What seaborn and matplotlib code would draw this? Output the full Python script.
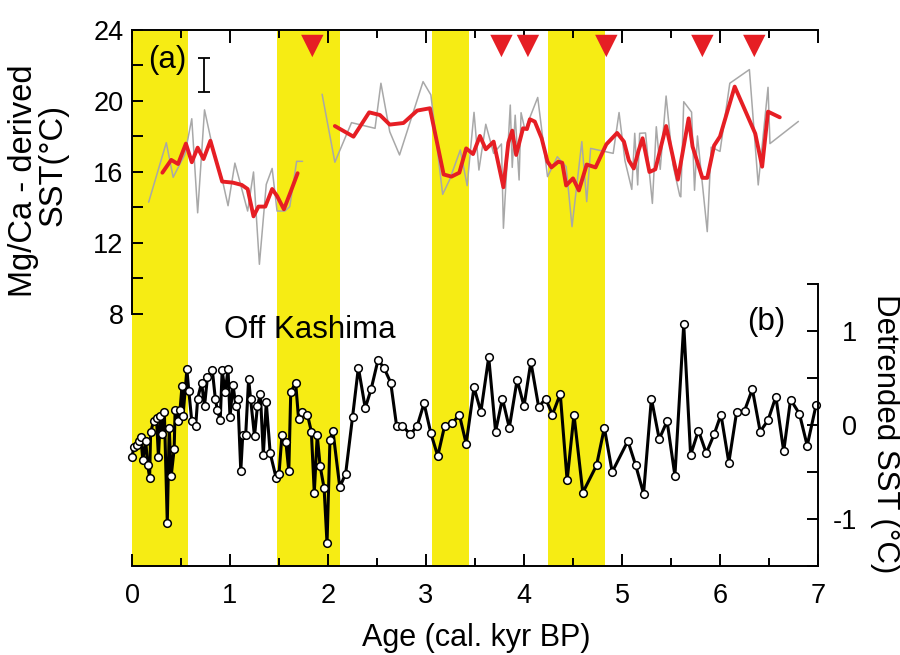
import matplotlib
matplotlib.use('Agg')
import matplotlib.pyplot as plt
import seaborn as sns
from matplotlib.ticker import FixedLocator

# Mg/Ca SST, raw (gray) and smoothed (red), two segments each
raw_age_1 = [0.17, 0.35, 0.42, 0.54, 0.61, 0.67, 0.74, 0.83, 0.92, 0.98, 1.05, 1.18,
             1.24, 1.30, 1.37, 1.43, 1.48, 1.56, 1.61, 1.68, 1.74]
raw_sst_1 = [14.3, 17.65, 15.7, 17.0, 19.0, 13.7, 19.5, 17.2, 15.6, 14.1, 16.5, 13.8,
             16.0, 10.8, 15.3, 16.2, 13.8, 13.8, 14.05, 16.6, 16.6]

raw_age_2 = [1.94, 2.07, 2.24, 2.48, 2.54, 2.63, 2.73, 2.97, 3.05, 3.17, 3.24, 3.35,
             3.42, 3.49, 3.54, 3.61, 3.69, 3.77, 3.79, 3.86, 3.88, 3.91, 3.95, 3.97,
             4.01, 4.14, 4.24, 4.34, 4.43, 4.49, 4.59, 4.64, 4.68, 4.91, 4.97, 5.03,
             5.10, 5.13, 5.16, 5.18, 5.24, 5.31, 5.35, 5.39, 5.45, 5.52, 5.59, 5.60,
             5.63, 5.71, 5.74, 5.77, 5.87, 5.91, 6.00, 6.10, 6.30, 6.39, 6.49, 6.51, 6.80]
raw_sst_2 = [20.38, 16.55, 18.78, 18.46, 21.0, 18.27, 16.96, 21.09, 20.34, 14.74, 15.55, 17.24,
             15.23, 19.36, 16.11, 18.69, 17.05, 17.58, 12.83, 19.77, 16.26, 19.2, 15.55, 19.34,
             18.37, 20.2, 15.74, 16.86, 16.3, 12.92, 17.71, 14.33, 17.33, 17.05, 19.35, 16.64,
             15.02, 18.18, 15.27, 18.18, 18.2, 14.23, 18.55, 16.15, 20.28, 16.4, 14.65, 14.6,
             19.96, 19.37, 14.97, 18.03, 12.64, 17.4, 17.16, 21.0, 21.77, 15.27, 20.77, 17.6, 18.85]

smooth_age_1 = [0.31, 0.40, 0.47, 0.55, 0.61, 0.67, 0.73, 0.80, 0.92, 1.03, 1.12, 1.18,
                1.24, 1.29, 1.36, 1.43, 1.48, 1.55, 1.62, 1.69]
smooth_sst_1 = [15.96, 16.68, 16.45, 17.6, 16.55, 17.37, 16.73, 17.76, 15.46, 15.4, 15.27, 15.04,
                13.5, 14.05, 14.05, 15.04, 14.65, 13.9, 14.9, 15.93]

smooth_age_2 = [2.07, 2.26, 2.42, 2.53, 2.63, 2.77, 2.91, 3.04, 3.18, 3.26, 3.34, 3.41,
                3.48, 3.55, 3.61, 3.69, 3.79, 3.84, 3.88, 3.92, 3.99, 4.03, 4.06, 4.11,
                4.18, 4.24, 4.28, 4.35, 4.39, 4.43, 4.50, 4.56, 4.64, 4.73, 4.84, 4.95,
                5.02, 5.07, 5.12, 5.17, 5.21, 5.28, 5.34, 5.45, 5.57, 5.68, 5.72, 5.82,
                5.87, 5.94, 6.00, 6.15, 6.36, 6.43, 6.49, 6.61]
smooth_sst_2 = [18.59, 17.99, 19.36, 19.21, 18.67, 18.76, 19.46, 19.59, 15.86, 15.74, 15.96, 17.33,
                17.01, 18.03, 17.28, 17.71, 15.14, 17.65, 18.33, 16.96, 18.46, 18.42, 18.97, 18.84,
                17.9, 16.58, 16.26, 16.58, 16.52, 15.24, 15.64, 14.96, 16.42, 16.26, 17.56, 18.2,
                17.71, 16.65, 16.2, 17.22, 17.9, 16.0, 16.15, 18.59, 15.57, 19.02, 17.43, 15.67,
                15.67, 17.49, 18.0, 20.81, 18.16, 16.3, 19.4, 19.08]

# detrended SST (black, open circles)
det_age = [0.00, 0.02, 0.05, 0.07, 0.09, 0.11, 0.14, 0.16, 0.18, 0.19, 0.22, 0.25, 0.27, 0.29,
           0.31, 0.33, 0.36, 0.38, 0.40, 0.43, 0.44, 0.47, 0.49, 0.51, 0.52, 0.56, 0.58, 0.61,
           0.65, 0.67, 0.71, 0.74, 0.77, 0.82, 0.85, 0.87, 0.90, 0.92, 0.95, 0.98, 1.00, 1.03,
           1.06, 1.08, 1.11, 1.13, 1.16, 1.19, 1.21, 1.25, 1.28, 1.31, 1.34, 1.37, 1.41, 1.47,
           1.50, 1.53, 1.57, 1.60, 1.62, 1.67, 1.70, 1.73, 1.79, 1.83, 1.86, 1.89, 1.92, 1.96,
           1.99, 2.02, 2.05, 2.12, 2.18, 2.25, 2.31, 2.38, 2.44, 2.51, 2.57, 2.64, 2.70, 2.76,
           2.84, 2.91, 2.98, 3.05, 3.12, 3.19, 3.27, 3.34, 3.41, 3.49, 3.56, 3.64, 3.71, 3.78,
           3.85, 3.93, 4.00, 4.07, 4.15, 4.22, 4.29, 4.37, 4.44, 4.51, 4.60, 4.74, 4.82, 4.90,
           5.06, 5.14, 5.22, 5.30, 5.38, 5.46, 5.54, 5.63, 5.70, 5.78, 5.86, 5.94, 6.01, 6.09,
           6.17, 6.25, 6.33, 6.41, 6.49, 6.57, 6.65, 6.72, 6.81, 6.89, 6.98]
det_sst = [-0.34, -0.23, -0.21, -0.17, -0.13, -0.37, -0.17, -0.43, -0.56, -0.08, 0.04, 0.07, -0.34, 0.10,
           -0.10, 0.14, -1.04, -0.03, -0.54, -0.26, 0.16, 0.04, 0.16, 0.41, 0.09, 0.59, 0.36, 0.04,
           -0.01, 0.28, 0.45, 0.20, 0.51, 0.58, 0.28, 0.16, 0.05, 0.58, 0.35, 0.59, 0.08, 0.43,
           0.20, 0.28, -0.49, -0.11, -0.11, 0.49, 0.28, -0.12, 0.20, 0.33, -0.32, 0.24, -0.30, -0.56,
           -0.52, -0.11, -0.18, -0.49, 0.35, 0.45, 0.06, 0.14, 0.11, -0.07, -0.72, -0.11, -0.44, -0.67,
           -1.26, -0.16, -0.06, -0.66, -0.52, 0.08, 0.61, 0.18, 0.38, 0.69, 0.61, 0.45, -0.01, -0.01,
           -0.10, -0.01, 0.23, -0.09, -0.33, -0.01, 0.02, 0.11, -0.20, 0.40, 0.14, 0.72, -0.07, 0.28,
           -0.03, 0.48, 0.20, 0.67, 0.19, 0.28, 0.11, 0.33, -0.59, 0.11, -0.72, -0.43, -0.03, -0.50,
           -0.17, -0.43, -0.73, 0.28, -0.15, 0.04, -0.54, 1.07, -0.32, -0.06, -0.30, -0.10, 0.11, -0.40,
           0.14, 0.15, 0.38, -0.07, 0.05, 0.30, -0.28, 0.27, 0.12, -0.22, 0.21]

# cold events (yellow bands) and red triangles
band_start = [0.0, 1.48, 3.06, 4.24]
band_end = [0.57, 2.12, 3.44, 4.83]
event_age = [1.84, 3.77, 4.04, 4.84, 5.82, 6.35]
event_level = [23.1] * len(event_age)

YELLOW = '#f6ec14'
RED = '#e61e24'

sns.set_style('ticks')
plt.rcParams['font.family'] = ['Liberation Sans', 'DejaVu Sans']
plt.rcParams['axes.unicode_minus'] = False
for key in ['text.color', 'axes.labelcolor', 'xtick.color', 'ytick.color']:
    plt.rcParams[key] = 'black'

fig = plt.figure(figsize=(9, 6.55), dpi=100)
ax = fig.add_axes([132 / 900, 1 - 566 / 655, 686 / 900, 536 / 655])

for s, e in zip(band_start, band_end):
    ax.axvspan(s, e, color=YELLOW, lw=0, zorder=0)

# panel (a)
sns.lineplot(x=raw_age_1, y=raw_sst_1, ax=ax, color='#a8a8a8', lw=1.1, sort=False, estimator=None, zorder=2)
sns.lineplot(x=raw_age_2, y=raw_sst_2, ax=ax, color='#a8a8a8', lw=1.1, sort=False, estimator=None, zorder=2)
sns.lineplot(x=smooth_age_1, y=smooth_sst_1, ax=ax, color=RED, lw=2.8, sort=False, estimator=None, zorder=3)
sns.lineplot(x=smooth_age_2, y=smooth_sst_2, ax=ax, color=RED, lw=2.8, sort=False, estimator=None, zorder=3)
sns.scatterplot(x=event_age, y=event_level, ax=ax, marker='v', s=260, color=RED, edgecolor='none', zorder=4)
ax.errorbar([0.73], [21.45], yerr=[0.95], color='black', lw=1.3, capsize=4, capthick=1.3)

ax.set_xlim(0, 7)
ax.set_ylim(-6.2, 24)
ax.set_xlabel('')
ax.set_ylabel('')
ax.spines['right'].set_visible(False)
ax.spines['left'].set_bounds(8, 24)
for sp in ['left', 'top', 'bottom']:
    ax.spines[sp].set_linewidth(1.4)
    ax.spines[sp].set_color('black')

ax.xaxis.set_major_locator(FixedLocator(range(8)))
ax.xaxis.set_minor_locator(FixedLocator([0.5, 1.5, 2.5, 3.5, 4.5, 5.5, 6.5]))
ax.yaxis.set_major_locator(FixedLocator([8, 12, 16, 20, 24]))
ax.yaxis.set_minor_locator(FixedLocator([10, 14, 18, 22]))
ax.tick_params(axis='x', which='both', direction='in', top=True, bottom=True, width=1.4, pad=12, labelsize=19.5)
ax.tick_params(axis='x', which='major', length=9)
ax.tick_params(axis='x', which='minor', length=6)
ax.tick_params(axis='y', which='both', direction='in', left=True, right=False, length=8, width=1.4, pad=6,
               labelsize=19.5)

ax.text(0.36, 22.3, '(a)', ha='center', va='center', fontsize=22.5)

# panel (b)
ax2 = ax.twinx()
sns.lineplot(x=det_age, y=det_sst, ax=ax2, color='black', lw=2.2, sort=False, estimator=None, clip_on=False,
             marker='o', markersize=5.5, markerfacecolor='white', markeredgecolor='black', markeredgewidth=1.1)
ax2.set_ylim(-1.5, 4.2)
ax2.set_ylabel('')
for sp in ['left', 'top', 'bottom']:
    ax2.spines[sp].set_visible(False)
ax2.spines['right'].set_bounds(-1.5, 1.5)
ax2.spines['right'].set_linewidth(1.4)
ax2.spines['right'].set_color('black')
ax2.yaxis.set_major_locator(FixedLocator([-1, 0, 1]))
ax2.yaxis.set_minor_locator(FixedLocator([-1.5, -0.5, 0.5, 1.5]))
ax2.tick_params(axis='y', which='both', direction='in', length=8, width=1.4, pad=28, labelsize=19.5)
for lab in ax2.get_yticklabels():
    lab.set_horizontalalignment('right')

ax2.text(1.81, 1.01, 'Off Kashima', ha='center', va='center', fontsize=22.5)
ax2.text(6.47, 1.09, '(b)', ha='center', va='center', fontsize=22.5)

fig.text(24 / 900, 1 - 181 / 655, 'Mg/Ca - derived', rotation=90, ha='center', va='center', fontsize=23.5)
fig.text(53 / 900, 1 - 165 / 655, 'SST(°C)', rotation=90, ha='center', va='center', fontsize=23.5)
fig.text(885 / 900, 1 - 434 / 655, 'Detrended SST (°C)', rotation=270, ha='center', va='center', fontsize=22.5)
fig.text(476 / 900, 1 - 646 / 655, 'Age (cal. kyr BP)', ha='center', va='baseline', fontsize=22)

fig.savefig('out.png', dpi=100)
